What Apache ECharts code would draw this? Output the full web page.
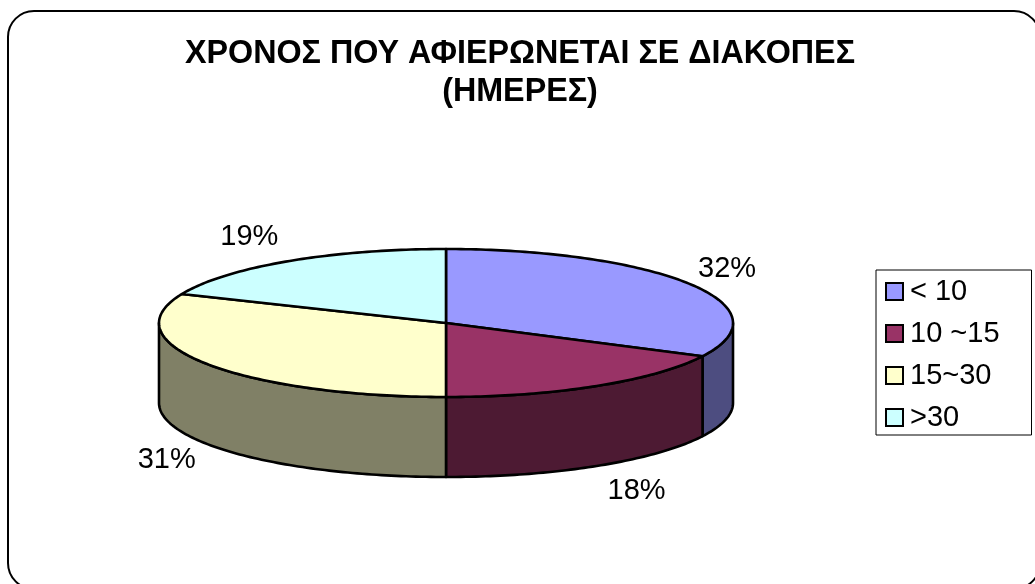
<!DOCTYPE html>
<html>
<head>
<meta charset="utf-8">
<style>
  html, body { margin: 0; padding: 0; background: #fff; }
  #chart { width: 1035px; height: 584px; }
</style>
</head>
<body>
<div id="chart"></div>
<script src="https://cdn.jsdelivr.net/npm/echarts@6/dist/echarts.min.js"></script>
<script>
const categories = ['< 10', '10 ~15', '15~30', '>30']
const shares = [32.4, 17.6, 31.4, 18.6]
const topColors = ['#9999FF', '#993366', '#FFFFCC', '#CCFFFF']
const sideColors = ['#4D4D80', '#4D1A33', '#808066', '#668080']

const FONT = '"Liberation Sans", Arial, sans-serif'
const cx = 446, cy = 323, rx = 287, ry = 74, depth = 80
// per slice nudge of the percent label, px
const labelShift = [[-10, 0], [11, 0], [6, 0], [-8, 0]]

const total = shares.reduce((a, b) => a + b, 0)

function rim(deg, drop) {
  const a = deg * Math.PI / 180
  return [cx + rx * Math.sin(a), cy - ry * Math.cos(a) + drop]
}

function arc(from, to, drop) {
  const pts = []
  const n = Math.max(2, Math.ceil(Math.abs(to - from)))
  for (let i = 0; i <= n; i++) pts.push(rim(from + (to - from) * i / n, drop))
  return pts
}

function renderSlice(idx) {
  return function (params, api) {
    const value = api.value(0)
    const before = shares.slice(0, idx).reduce((a, b) => a + b, 0)
    const a0 = before / total * 360
    const a1 = (before + value) / total * 360
    const stroke = { stroke: '#000', lineWidth: 2.6, lineJoin: 'round' }
    const children = []

    // side wall only exists on the front half
    const s0 = Math.max(a0, 90), s1 = Math.min(a1, 270)
    if (s1 > s0) {
      children.push({
        type: 'polygon',
        shape: { points: [...arc(s0, s1, 0), ...arc(s1, s0, depth)] },
        style: { fill: sideColors[idx], ...stroke },
      })
    }
    children.push({
      type: 'polygon',
      shape: { points: [[cx, cy], ...arc(a0, a1, 0)] },
      style: { fill: topColors[idx], ...stroke },
    })

    const mid = (a0 + a1) / 2 * Math.PI / 180
    const cos = Math.cos(mid)
    children.push({
      type: 'text',
      style: {
        text: Math.round(value / total * 100) + '%',
        x: cx + 342 * Math.sin(mid) + labelShift[idx][0],
        y: cy - 103 * cos + (cos < 0 ? depth : 0) + labelShift[idx][1],
        align: 'center',
        verticalAlign: 'middle',
        font: '29px ' + FONT,
        fill: '#000',
      },
    })
    return { type: 'group', children }
  }
}

const chart = echarts.init(document.getElementById('chart'), null, { renderer: 'canvas' })
chart.setOption({
  animation: false,
  backgroundColor: '#fff',
  title: {
    text: 'ΧΡΟΝΟΣ ΠΟΥ ΑΦΙΕΡΩΝΕΤΑΙ ΣΕ ΔΙΑΚΟΠΕΣ\n(ΗΜΕΡΕΣ)',
    left: 515,
    top: 30,
    textAlign: 'center',
    textStyle: { fontFamily: FONT, fontSize: 32.3, fontWeight: 'bold', color: '#000', lineHeight: 38 },
  },
  legend: {
    orient: 'vertical',
    left: 876,
    top: 270,
    data: categories,
    icon: 'rect',
    itemWidth: 17,
    itemHeight: 17,
    itemGap: 11,
    padding: [6, 32, 2, 9],
    backgroundColor: '#fff',
    borderColor: '#000',
    borderWidth: 1,
    selectedMode: false,
    textStyle: { fontFamily: FONT, fontSize: 29, color: '#000', padding: [0, 0, 0, 2], lineHeight: 31 },
  },
  graphic: [{
    type: 'rect',
    silent: true,
    z: -1,
    shape: { x: 8, y: 11, width: 1032, height: 578, r: 26 },
    style: { fill: 'none', stroke: '#000', lineWidth: 2 },
  }],
  series: categories.map((name, i) => ({
    type: 'custom',
    name,
    coordinateSystem: 'none',
    silent: true,
    itemStyle: { color: topColors[i], borderColor: '#000', borderWidth: 3 },
    data: [[shares[i]]],
    renderItem: renderSlice(i),
  })),
})
window.addEventListener('resize', () => chart.resize())
</script>
</body>
</html>
